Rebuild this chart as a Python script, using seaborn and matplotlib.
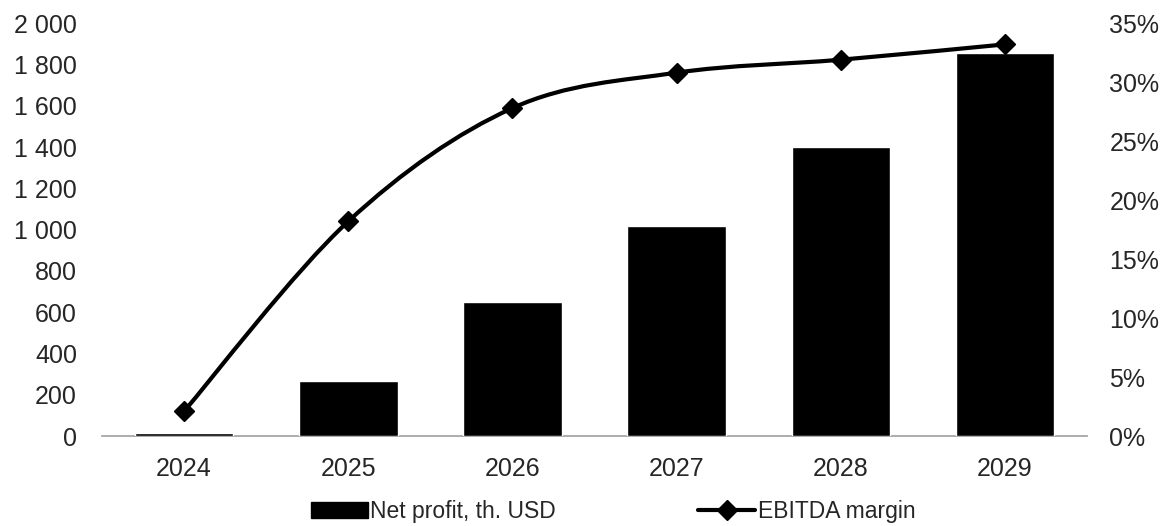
import numpy as np
import pandas as pd
import seaborn as sns
import matplotlib.pyplot as plt
from matplotlib.path import Path
from matplotlib.patches import PathPatch, Patch
from matplotlib.lines import Line2D
from matplotlib.ticker import FuncFormatter

# datos
years = ["2024", "2025", "2026", "2027", "2028", "2029"]
net_profit = [15, 266, 649, 1017, 1400, 1855]
ebitda_margin = [0.021, 0.182, 0.278, 0.308, 0.319, 0.332]

sns.set_theme(style="white")
plt.rcParams['font.family'] = ['Liberation Sans', 'DejaVu Sans']

df = pd.DataFrame({"year": years, "profit": net_profit})

fig = plt.figure(figsize=(11.63, 5.26), dpi=100)
ax = fig.add_axes([0.0877, 0.171, 0.847, 0.785])
sns.barplot(data=df, x="year", y="profit", color="black", width=0.6,
            saturation=1, ax=ax, zorder=3)
ax.set_xlim(-0.5, 5.5)
ax.set_ylim(0, 2000)
ax.set_yticks(range(0, 2001, 200))
ax.yaxis.set_major_formatter(FuncFormatter(lambda v, p: f"{int(v):,}".replace(",", " ")))
ax.set_xlabel("")
ax.set_ylabel("")
for s in ["top", "right", "left"]:
    ax.spines[s].set_visible(False)
ax.spines["bottom"].set_color("#a6a6a6")
ax.spines["bottom"].set_linewidth(1.3)
ax.spines["bottom"].set_zorder(1)
ax.tick_params(axis="y", length=0, pad=18, labelsize=18)
ax.tick_params(axis="x", length=0, pad=15, labelsize=18)

# eje derecho: margen EBITDA con línea suavizada (estilo Excel)
ax2 = ax.twinx()
ax2.set_ylim(0, 0.35)
ax2.set_yticks(np.arange(0, 0.351, 0.05))
ax2.yaxis.set_major_formatter(FuncFormatter(lambda v, p: f"{v*100:.0f}%"))
for s in ax2.spines.values():
    s.set_visible(False)
ax2.tick_params(axis="y", length=0, pad=16, labelsize=18)
ax2.grid(False)

xs = np.arange(len(years), dtype=float)
ys = np.array(ebitda_margin)
verts = [(xs[0], ys[0])]
codes = [Path.MOVETO]
n = len(xs)
for i in range(n - 1):
    p0 = np.array([xs[max(i - 1, 0)], ys[max(i - 1, 0)]])
    p1 = np.array([xs[i], ys[i]])
    p2 = np.array([xs[i + 1], ys[i + 1]])
    p3 = np.array([xs[min(i + 2, n - 1)], ys[min(i + 2, n - 1)]])
    c1 = p1 + (p2 - p0) / 6
    c2 = p2 - (p3 - p1) / 6
    verts += [tuple(c1), tuple(c2), tuple(p2)]
    codes += [Path.CURVE4] * 3
ax2.add_patch(PathPatch(Path(verts, codes), facecolor="none", edgecolor="black",
                        lw=3, capstyle="round", zorder=3))
ax2.plot(xs, ys, linestyle="none", marker="D", color="black", markersize=10, zorder=4)

handles = [Patch(facecolor="black", edgecolor="black"),
           Line2D([0], [0], color="black", lw=3, marker="D", markersize=10)]
fig.legend(handles, ["Net profit, th. USD", "EBITDA margin"], loc="center",
           bbox_to_anchor=(0.527, 0.027), ncol=2, frameon=False, fontsize=16.5,
           handlelength=2.5, handletextpad=0.1, columnspacing=6.2)

plt.savefig("out.png", dpi=100)
